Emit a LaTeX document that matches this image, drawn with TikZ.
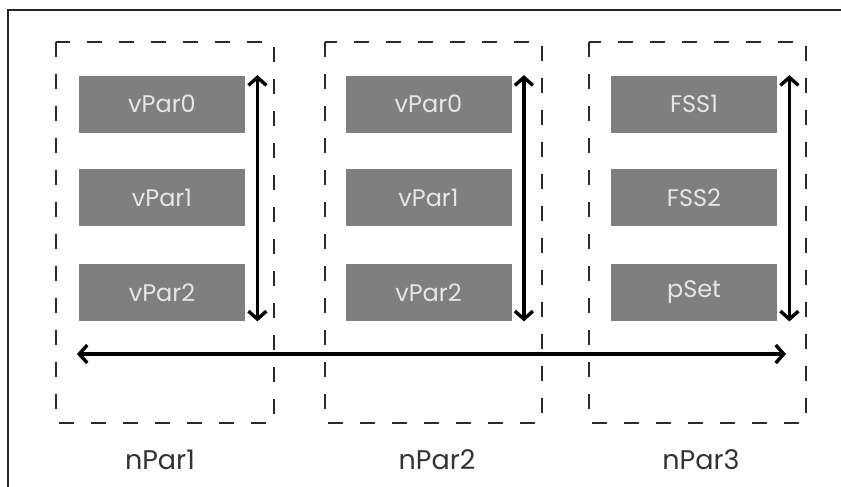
\documentclass[tikz,border=0pt]{standalone}
\usepackage{fontspec}
\setmainfont{Poppins}
\usetikzlibrary{arrows.meta, positioning}
\definecolor{blockgray}{HTML}{7F7F7F}
\definecolor{blocktext}{HTML}{E6E6E6}
\definecolor{dashgray}{HTML}{2A2A2A}
\tikzset{
	parblock/.style={fill=blockgray, minimum width=83pt, minimum height=28.5pt, inner sep=0pt, font=\fontsize{12}{14}\selectfont\color{blocktext}}
}
\tikzset{
	groupbox/.style={draw=dashgray, line width=1.1pt, dash pattern=on 7.5pt off 8.5pt}
}
\tikzset{
	grouplabel/.style={font=\fontsize{13.5}{16}\selectfont\color{black!80}}
}

\begin{document}
\begin{tikzpicture}[x=0.5pt, y=-0.5pt, >={Straight Barb[length=4pt, width=9pt]}]
      \useasboundingbox (0,0) rectangle (841,487);
      % frame
      \draw[line width=1.2pt, black!85] (8,487) -- (8,10) -- (841,10);
      % first group
      \draw[groupbox] (56,42) rectangle (274,423);
      \node[parblock] (a0) at (162,104) {vPar0};
      \node[parblock] (a1) at (162,197.5) {vPar1};
      \node[parblock] (a2) at (162,292.5) {vPar2};
      \draw[line width=1.7pt, <->] ([xshift=6pt]a0.north east) -- ([xshift=6pt]a2.south east);
      \node[grouplabel] (n1) at (160,460) {nPar1};
      % second group
      \draw[groupbox] (325,42) rectangle (542,423);
      \node[parblock] (b0) at (428.5,104) {vPar0};
      \node[parblock] (b1) at (428.5,197.5) {vPar1};
      \node[parblock] (b2) at (428.5,292.5) {vPar2};
      \draw[line width=1.7pt, <->] ([xshift=6pt]b0.north east) -- ([xshift=6pt]b2.south east);
      \node[grouplabel] (n2) at (437,460) {nPar2};
      % third group
      \draw[groupbox] (589,42) rectangle (806,423);
      \node[parblock] (c0) at (694,104) {FSS1};
      \node[parblock] (c1) at (694,197.5) {FSS2};
      \node[parblock] (c2) at (694,292.5) {pSet};
      \draw[line width=1.7pt, <->] ([xshift=6pt]c0.north east) -- ([xshift=6pt]c2.south east);
      \node[grouplabel] (n3) at (701,460) {nPar3};
      % across groups
      \coordinate (hleft) at (77,354);
      \coordinate (hright) at (786,354);
      \draw[line width=1.7pt, <->] (hleft) -- (hright);
    \end{tikzpicture}
\end{document}
